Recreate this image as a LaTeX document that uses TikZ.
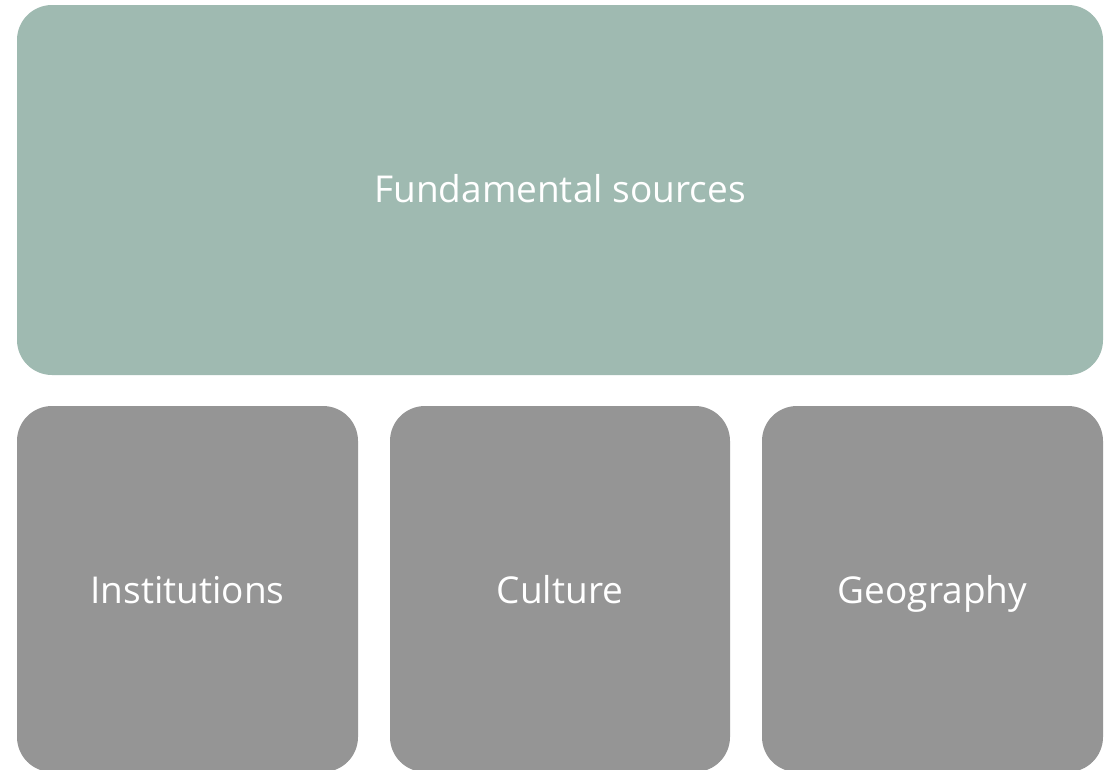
\documentclass[tikz,border=0pt]{standalone}
\usepackage{fontspec}
\setmainfont{Open Sans}
\definecolor{topfill}{HTML}{9FBAB1}
\definecolor{boxfill}{HTML}{959595}
\begin{document}
\begin{tikzpicture}[x=1pt,y=-1pt,
  topbox/.style={fill=topfill, draw=none, rounded corners=35pt},
  subbox/.style={fill=boxfill, draw=none, rounded corners=35pt},
  lbl/.style={text=white, inner sep=0pt, anchor=base, font=\fontsize{37}{44}\selectfont}]
\useasboundingbox (0,0) rectangle (1109,769);
\clip (0,0) rectangle (1109,769);
\fill[white] (0,0) rectangle (1109,769);
\path[topbox] (17,5) rectangle (1103,375);
\node[lbl] (fund) at (560,202) {Fundamental sources};
\path[subbox] (17,406) rectangle (358,772);
\path[subbox] (390,406) rectangle (730,772);
\path[subbox] (762,406) rectangle (1103,772);
\node[lbl] (inst) at (187.5,603) {Institutions};
\node[lbl] (cult) at (560,603) {Culture};
\node[lbl] (geo) at (932.5,603) {Geography};
\end{tikzpicture}
\end{document}
